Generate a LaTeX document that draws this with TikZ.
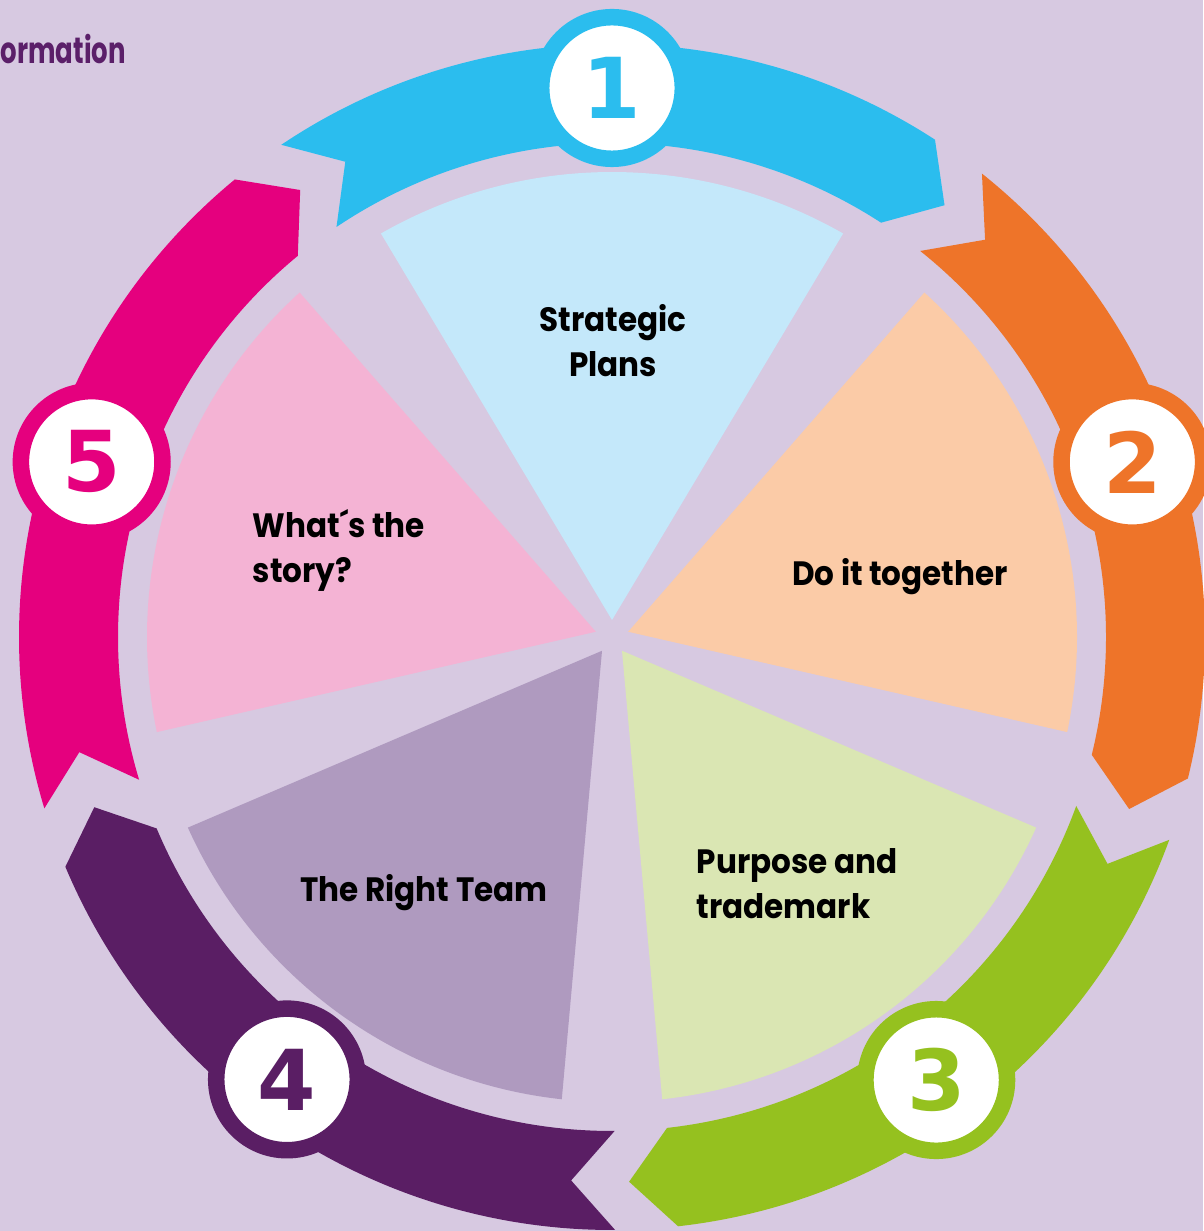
\documentclass[tikz,border=0pt]{standalone}
\usepackage{fontspec}
\setmainfont{Poppins}[FakeStretch=0.92]
\newfontfamily\headfont{Poppins}[FakeStretch=0.71]
\newfontfamily\digitfont{DejaVu Sans}

\definecolor{backdrop}{HTML}{D7C9E1}
\definecolor{titleplum}{HTML}{5B1F69}
\definecolor{bandsky}{HTML}{2BBDEE}
\definecolor{slicesky}{HTML}{C4E8FA}
\definecolor{bandorange}{HTML}{EE7429}
\definecolor{sliceorange}{HTML}{FBCBA7}
\definecolor{bandlime}{HTML}{95C11F}
\definecolor{slicelime}{HTML}{DAE6B3}
\definecolor{bandplum}{HTML}{5A1E64}
\definecolor{sliceplum}{HTML}{AF9ABF}
\definecolor{bandrose}{HTML}{E5007E}
\definecolor{slicerose}{HTML}{F4B3D4}

\tikzset{
  slicetext/.style={font=\bfseries\fontsize{9.6}{12.8}\selectfont, text=black, inner sep=0pt},
  numdisc/.style={circle, fill=white, line width=0.165cm, minimum size=1.415cm, inner sep=0pt,
    font=\digitfont\bfseries\fontsize{23.9}{24}\selectfont},
}

\begin{document}
\begin{tikzpicture}[x=0.01cm,y=-0.01cm]
  \def\outerr{593}
  \def\innerr{494}
  \def\tipr{545}
  \def\notch{4.6}
  \def\slicer{465}
  \def\slicehalf{29.8}
  \def\sliceshift{17}
  \def\discr{549}

  \fill[backdrop] (0,0) rectangle (1203,1231);
  \useasboundingbox (0,0) rectangle (1203,1231);

  \node[anchor=base west, inner sep=0pt, text=titleplum, font=\headfont\bfseries\fontsize{10.4}{11}\selectfont] (heading) at (0,64) {ormation};

  \begin{scope}[shift={(612,637)}]
    % pie slices
    \foreach \tone [count=\k from 0] in {sky,orange,lime,plum,rose}
      \fill[fill=slice\tone] ({\k*72-90}:\sliceshift) -- ({\k*72-90-\slicehalf}:\slicer)
        arc[start angle={\k*72-90-\slicehalf}, end angle={\k*72-90+\slicehalf}, radius=\slicer] -- cycle;

    % ring of arrows
    \foreach \tone/\tail/\head in {sky/-33.9/33.0, orange/38.6/103.8, lime/110/173.6, plum/179.7/247.2, rose/253.2/320.5}
      \fill[fill=band\tone] ({\tail-90}:\outerr)
        arc[start angle={\tail-90}, end angle={\head-90}, radius=\outerr]
        -- ({\head+\notch-90}:\tipr) -- ({\head-90}:\innerr)
        arc[start angle={\head-90}, end angle={\tail-90}, radius=\innerr]
        -- ({\tail+\notch-90}:\tipr) -- cycle;

    % numbered discs
    \foreach \tone/\spot [count=\k from 1] in {sky/0, orange/71.4, lime/143.8, plum/216.3, rose/288.6}
      \node[numdisc, draw=band\tone, text=band\tone] (disc\k) at ({\spot-90}:\discr) {\k};
  \end{scope}

  \node[slicetext, align=center] (plans) at (613,341) {Strategic\\Plans};
  \node[slicetext] (together) at (900,577) {Do it together};
  \node[slicetext, align=left, anchor=west] (trademark) at (696,884) {Purpose and\\trademark};
  \node[slicetext] (team) at (424,893) {The Right Team};
  \node[slicetext, align=left, anchor=west] (story) at (252,550) {What´s the\\story?};
\end{tikzpicture}
\end{document}
